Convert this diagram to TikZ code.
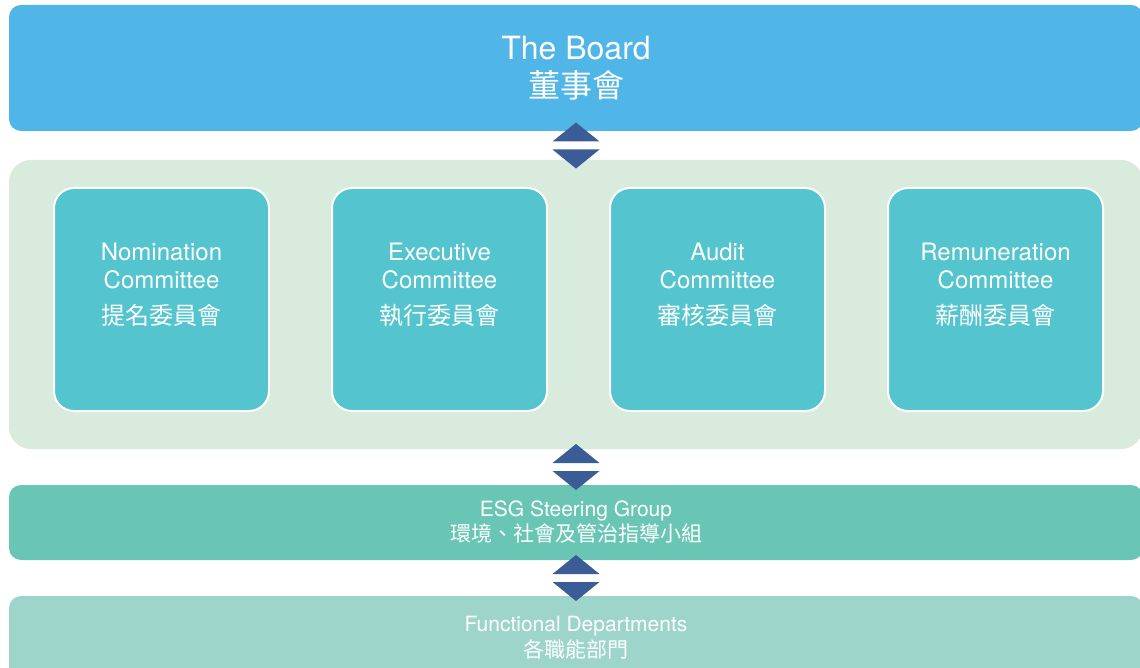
\documentclass[tikz,border=0pt]{standalone}
\usepackage{fontspec}
\setmainfont{TeX Gyre Heros}
\newfontfamily\cjk{Noto Sans CJK TC}
\usetikzlibrary{calc,positioning}
\definecolor{boardblue}{HTML}{50B5E7}
\definecolor{panelgreen}{HTML}{D8EBDD}
\definecolor{committeeteal}{HTML}{54C4CE}
\definecolor{esggreen}{HTML}{69C6B5}
\definecolor{deptgreen}{HTML}{9DD5CB}
\definecolor{arrowblue}{HTML}{3B5C96}
\tikzset{
	band/.style={
		rectangle,
		rounded corners=12pt,
		fill=#1,
		minimum width=1134pt,
		inner sep=0pt,
		text=white,
		align=center},
	panel/.style={
		band=panelgreen,
		rounded corners=22pt},
	committee/.style={
		rectangle,
		rounded corners=20pt,
		fill=committeeteal,
		draw=white, line width=2pt,
		minimum width=215pt,
		minimum height=223pt},
	comtext/.style={
		text=white,
		align=center,
		font=\fontsize{24pt}{28pt}\selectfont},
	twoway/.style={fill=arrowblue},
}
% pair of triangles between two stacked bands
\newcommand{\biarrow}[2]{%
	\coordinate (#1-#2) at ($(#1.south)!0.5!(#2.north)$);
	\path[twoway] ($(#1-#2)+(-23.5,-4)$) -- ($(#1-#2)+(23.5,-4)$) -- ($(#1-#2)+(0,-23)$) -- cycle;
	\path[twoway] ($(#1-#2)+(-23.5,4)$) -- ($(#1-#2)+(23.5,4)$) -- ($(#1-#2)+(0,23)$) -- cycle;
}

\begin{document}
\begin{tikzpicture}
	[x=1pt, y=-1pt,
	node distance=61pt]
	\useasboundingbox (0,0) rectangle (1140,668);
	\node[band=boardblue, minimum height=126pt, font=\fontsize{32pt}{38pt}\selectfont] (board) at (576,68)
		{The Board\\{\cjk 董事會}};
	\node[panel, minimum height=289pt] (panel) at (576,304.5) {};
	\node[band=esggreen, minimum height=75pt, font=\fontsize{21pt}{25pt}\selectfont] (esg) at (576,522.5)
		{ESG Steering Group\\{\cjk 環境、社會及管治指導小組}};
	\node[band=deptgreen, minimum height=84pt, font=\fontsize{21pt}{26pt}\selectfont] (dept) at (576,638)
		{Functional Departments\\{\cjk 各職能部門}};

	% committees
	\node[committee] (nom) at (161.5,299.5) {};
	\node[committee, right=of nom] (exec) {};
	\node[committee, right=of exec] (audit) {};
	\node[committee, right=of audit] (remu) {};
	\node[comtext] (nomt) at ($(nom)+(0,-15)$) {Nomination\\Committee\\[8pt]{\cjk 提名委員會}};
	\node[comtext] (exect) at ($(exec)+(0,-15)$) {Executive\\Committee\\[8pt]{\cjk 執行委員會}};
	\node[comtext] (auditt) at ($(audit)+(0,-15)$) {Audit\\Committee\\[8pt]{\cjk 審核委員會}};
	\node[comtext] (remut) at ($(remu)+(0,-15)$) {Remuneration\\Committee\\[8pt]{\cjk 薪酬委員會}};

	\biarrow{board}{panel}
	\biarrow{panel}{esg}
	\biarrow{esg}{dept}
\end{tikzpicture}
\end{document}
